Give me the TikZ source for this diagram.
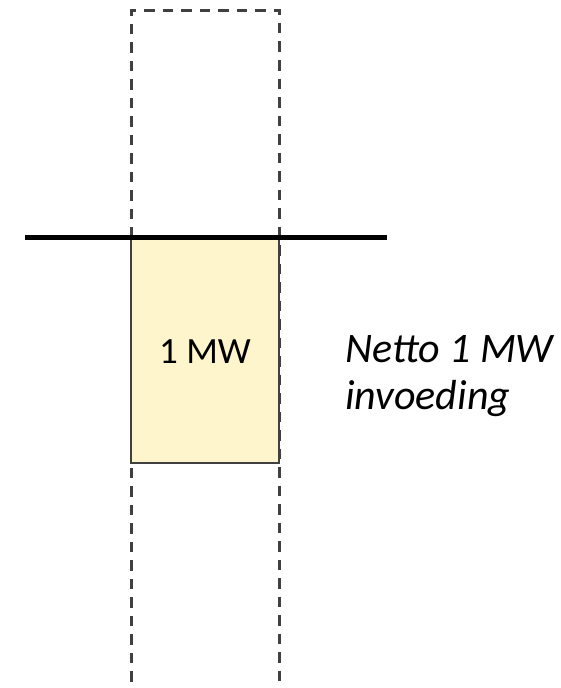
\documentclass[tikz,border=0pt]{standalone}
\usepackage{fontspec}
\setmainfont{Carlito}
\definecolor{boxfill}{HTML}{FFF5CC}
\definecolor{edge}{HTML}{404040}
\begin{document}
\begin{tikzpicture}[x=1pt,y=-1pt,
  dashbox/.style={draw=edge,line width=3pt,dash pattern=on 10.5pt off 8pt},
  loadbox/.style={draw=edge,line width=2.6pt,fill=boxfill,outer sep=0pt,inner sep=0pt},
  busbar/.style={draw=black,line width=5pt},
  lbl/.style={font=\fontsize{37}{44}\selectfont,text=black},
  note/.style={font=\fontsize{42}{47}\selectfont\itshape,text=black,align=left,anchor=base west,inner sep=0pt}]
\useasboundingbox (0,0) rectangle (561,688);
\coordinate (dtl) at (131,10);
\coordinate (dtr) at (279,10);
\coordinate (dbl) at (131,700);
\coordinate (dbr) at (279,700);
\draw[dashbox] (dbl) -- (dtl) -- (dtr) -- (dbr);
\node[loadbox,minimum width=148pt,minimum height=226pt,anchor=north west] (box) at (131,237) {};
\node[lbl,anchor=base,inner sep=0pt] (mw) at (205,363) {1 MW};
\coordinate (bl) at (25,237);
\coordinate (br) at (387,237);
\draw[busbar] (bl) -- (br);
\node[note] (txt) at (345,409) {Netto 1 MW\\invoeding};
\end{tikzpicture}
\end{document}
